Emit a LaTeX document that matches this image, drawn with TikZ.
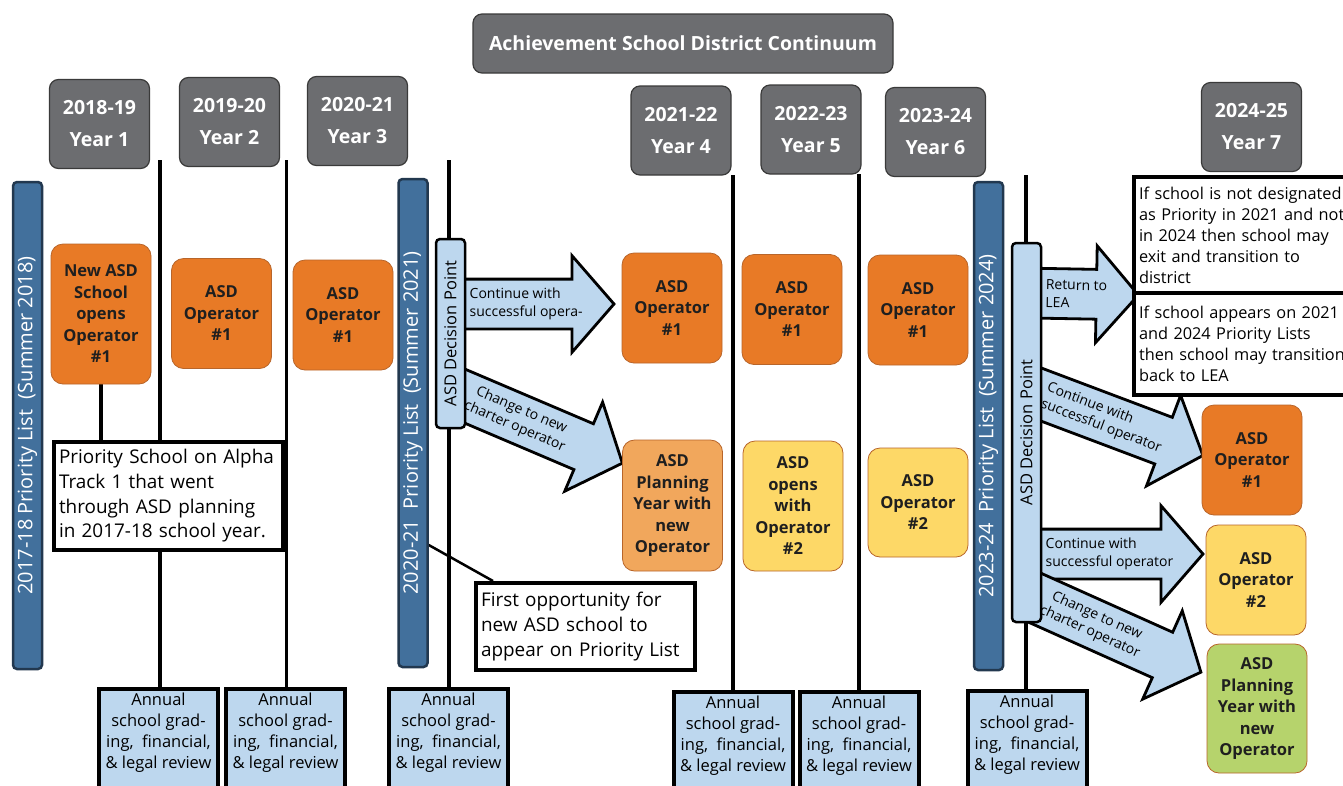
\documentclass[tikz,border=0pt]{standalone}
\usepackage{fontspec}
\setmainfont{Open Sans}
\usepackage{tikz}
\usetikzlibrary{calc, positioning, shapes.arrows, backgrounds}
\definecolor{boxGray}{HTML}{6C6D70}
\definecolor{edgeGray}{HTML}{3A3A3A}
\definecolor{barBlue}{HTML}{42709C}
\definecolor{barEdge}{HTML}{22384F}
\definecolor{paleBlue}{HTML}{BDD7EE}
\definecolor{opOrange}{HTML}{E87A26}
\definecolor{opEdge}{HTML}{B8652A}
\definecolor{planOrange}{HTML}{F1A75C}
\definecolor{opYellow}{HTML}{FDD867}
\definecolor{opGreen}{HTML}{B6D36C}
\definecolor{inkDark}{gray}{0.12}

\newcommand{\fatarrow}[5]{%
  \path let \p1=($(#2)-(#1)$), \n1={atan2(\y1,\x1)}, \n2={veclen(\x1,\y1)} in
    node[fatarr, minimum height=\n2, rotate=\n1, anchor=tail] (#3) at (#1) {}
    node[arrlbl, align=#5, rotate=\n1, anchor=west] (#3-lbl) at ($(#1)!19pt!(#2)$) {#4};
}

\begin{document}
\begin{tikzpicture}[x=1pt, y=-1pt,
    titlebox/.style={draw=edgeGray, line width=1.2pt, fill=boxGray, rounded corners=9pt, text=white, inner sep=0pt, font=\fontsize{19.5}{24}\selectfont\bfseries},
    yearbox/.style={titlebox, align=center, minimum width=100pt, minimum height=89pt, font=\fontsize{19.5}{32}\selectfont\bfseries},
    prbar/.style={draw=barEdge, line width=2.5pt, fill=barBlue, rounded corners=4pt, text=white, rotate=90, minimum height=29pt, inner sep=0pt, font=\fontsize{20}{24}\selectfont},
    decbox/.style={draw=black, line width=2.5pt, fill=paleBlue, rounded corners=4pt, rotate=90, minimum height=29pt, inner sep=0pt, font=\fontsize{16.5}{20}\selectfont},
    opbox/.style={draw=opEdge, line width=0.8pt, fill=opOrange, rounded corners=12pt, minimum width=100pt, minimum height=110pt, align=center, inner sep=0pt, text=inkDark, font=\fontsize{16.5}{21.5}\selectfont\bfseries},
    notebox/.style={draw=black, line width=4pt, fill=white, align=left, inner xsep=5pt, inner ysep=0pt, font=\fontsize{18.9}{24.7}\selectfont},
    sidenote/.style={notebox, text width=220pt, anchor=west, font=\fontsize{16.3}{21}\selectfont},
    annbox/.style={draw=black, line width=4pt, fill=paleBlue, minimum width=119pt, minimum height=110pt, anchor=north},
    anntext/.style={align=center, anchor=north, inner sep=0pt, font=\fontsize{16.5}{21}\selectfont},
    sep/.style={line width=3.5pt},
    fatarr/.style={single arrow, draw=black, line width=2.8pt, fill=paleBlue, minimum width=0pt, inner xsep=0pt, inner ysep=23.5pt, single arrow head extend=23.5pt, single arrow tip angle=98, line join=miter},
    arrlbl/.style={inner sep=0pt, font=\fontsize{14}{17.5}\selectfont}]
    \useasboundingbox (0,0) rectangle (1343,785);

    % title and school years
    \node[titlebox, minimum width=420pt, minimum height=59pt] (title) at (683,43.5) {Achievement School District Continuum};
    \node[yearbox] (y1) at (99.5,124) {2018-19\\Year 1};
    \node[yearbox] (y2) at (229.5,122) {2019-20\\Year 2};
    \node[yearbox] (y3) at (357.5,121) {2020-21\\Year 3};
    \node[yearbox] (y4) at (681,130.5) {2021-22\\Year 4};
    \node[yearbox] (y5) at (811,129.5) {2022-23\\Year 5};
    \node[yearbox] (y6) at (935.5,132) {2023-24\\Year 6};
    \node[yearbox] (y7) at (1251.5,127) {2024-25\\Year 7};

    % priority lists and decision points
    \node[prbar, minimum width=487pt] (bar1) at (27.5,425.5) {2017-18 Priority List\ \ (Summer 2018)};
    \node[prbar, minimum width=488pt] (bar2) at (413,423) {2020-21\ \ Priority List\ \ (Summer 2021)};
    \node[prbar, minimum width=488pt] (bar3) at (988.5,426) {2023-24\ \ Priority List\ \ (Summer 2024)};
    \node[decbox, minimum width=189pt] (dp1) at (450.5,333.5) {ASD Decision Point};
    \node[decbox, minimum width=379pt] (dp2) at (1026.5,432.5) {ASD Decision Point};

    % operators
    \node[opbox, minimum height=140pt] (op1) at (101,314) {New ASD\\School\\opens\\Operator\\\#1};
    \node[opbox] (op2) at (221.5,313.5) {ASD\\Operator\\\#1};
    \node[opbox] (op3) at (343,315) {ASD\\Operator\\\#1};
    \node[opbox] (op4) at (672,308) {ASD\\Operator\\\#1};
    \node[opbox] (op5) at (792,309.5) {ASD\\Operator\\\#1};
    \node[opbox] (op6) at (918,310) {ASD\\Operator\\\#1};
    \node[opbox] (op7) at (1252,460) {ASD\\Operator\\\#1};
    \node[opbox, minimum height=131pt, fill=planOrange] (plan4) at (672.5,505.5) {ASD\\Planning\\Year with\\new\\Operator};
    \node[opbox, minimum height=130pt, fill=opYellow] (open5) at (793,506) {ASD\\opens\\with\\Operator\\\#2};
    \node[opbox, minimum height=109pt, fill=opYellow] (op6b) at (918,502.5) {ASD\\Operator\\\#2};
    \node[opbox, fill=opYellow] (op7b) at (1256,580) {ASD\\Operator\\\#2};
    \node[opbox, minimum height=129pt, fill=opGreen] (plan7) at (1257,708.5) {ASD\\Planning\\Year with\\new\\Operator};

    % notes
    \node[notebox, text width=219pt, minimum height=108pt] (note1) at (168.5,496) {Priority School on Alpha\\Track 1 that went\\through ASD planning\\in 2017-18 school year.};
    \node[notebox, text width=209pt, minimum height=87pt] (note2) at (585.5,626.5) {First opportunity for\\new ASD school to\\appear on Priority List};
    \node[sidenote, minimum height=116pt] (note3) at (1132,235) {If school is not designated\\as Priority in 2021 and not\\in 2024 then school may\\exit and transition to\\district};
    \node[sidenote, minimum height=102pt] (note4) at (1132,344) {If school appears on 2021\\and 2024 Priority Lists\\then school may transition\\back to LEA};

    % annual reviews
    \foreach \name/\x/\y in {ann1/158.5/687, ann2/285.5/687, ann3/448.5/687, ann4/733/690, ann5/859/690, ann6/1027/689} {
        \node[annbox] (\name) at (\x,\y) {};
        \node[anntext] (\name-txt) at ([yshift=-6pt]\name.north) {Annual\\school grad-\\ing,\ \ financial,\\\& legal review};
    }

    \begin{scope}[on background layer]
        \fill[white] (0,0) rectangle (1343,785);
        \coordinate (t1) at (160,160);
        \coordinate (t2) at (286.5,160);
        \coordinate (t3) at (449,160);
        \coordinate (t4) at (733,175);
        \coordinate (t5) at (859,174);
        \coordinate (t6) at (1026,175);
        \foreach \i in {1,...,6}
            \draw[sep] (t\i) -- (t\i |- ann\i.north);
        \draw[sep] (op1.south) -- (op1.south |- note1.north);
        \draw[line width=2.5pt] ($(bar2.south)+(0,122)$) -- ($(note2.north west)+(19,0)$);

        % decision arrows
        \coordinate (a1s) at ($(dp1.center)+(0,-29.5)$);
        \coordinate (a1t) at ($(op4.west)+(-9,-4)$);
        \coordinate (a2s) at ($(dp1.center)+(0,56.5)$);
        \coordinate (a2t) at ($(plan4.north west)+(-1,23)$);
        \coordinate (a3s) at ($(dp2.center)+(0,-139.5)$);
        \coordinate (a3t) at ($(note3.south west)+(5,0)$);
        \coordinate (a4s) at ($(dp2.center)+(0,-43.5)$);
        \coordinate (a4t) at ($(op7.west)+(0,-5)$);
        \coordinate (a5s) at ($(dp2.center)+(0,121.5)$);
        \coordinate (a5t) at ($(op7b.west)+(-4,-26)$);
        \coordinate (a6s) at ($(dp2.center)+(0,161.5)$);
        \coordinate (a6t) at ($(plan7.north west)+(-7,28)$);
        \fatarrow{a1s}{a1t}{keep1}{Continue with\\successful opera-}{left}
        \fatarrow{a2s}{a2t}{swap1}{Change to new\\charter operator}{center}
        \fatarrow{a3s}{a3t}{back}{Return to\\LEA}{left}
        \fatarrow{a4s}{a4t}{keep2}{Continue with\\successful operator}{left}
        \fatarrow{a5s}{a5t}{keep3}{Continue with\\successful operator}{left}
        \fatarrow{a6s}{a6t}{swap2}{Change to new\\charter operator}{center}
    \end{scope}
\end{tikzpicture}
\end{document}
